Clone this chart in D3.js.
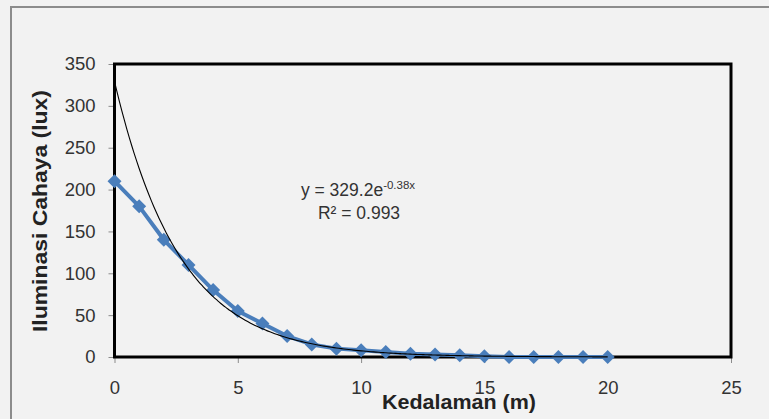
<!DOCTYPE html>
<html>
<head>
<meta charset="utf-8">
<script src="https://cdn.jsdelivr.net/npm/d3@7"></script>
<style>
  body { margin: 0; background: #f2f2f2; }
  svg { display: block; }
  text { font-family: "Liberation Sans", Arial, sans-serif; }
</style>
</head>
<body>
<svg width="769" height="419"></svg>
<script>
// data
var depth = [0, 1, 2, 3, 4, 5, 6, 7, 8, 9, 10, 11, 12, 13, 14, 15, 16, 17, 18, 19, 20];
var lux = [210, 180, 140, 110, 80, 55, 40, 25, 15, 10, 8, 6, 4, 3, 2, 1, 0, 0, 0, 0, 0];
var xTicks = [0, 5, 10, 15, 20, 25];
var yTicks = [0, 50, 100, 150, 200, 250, 300, 350];
// exponential trendline y = a * e^(b x), as shown on the chart
var trendA = 329.2, trendB = -0.38;

var svg = d3.select("svg"),
    width = +svg.attr("width"),
    height = +svg.attr("height");

var plotL = 114.5, plotR = 731, plotT = 64, plotB = 357;

var x = d3.scaleLinear().domain([0, 25]).range([plotL, plotR]);
var y = d3.scaleLinear().domain([0, 350]).range([plotB, plotT]);

svg.append("rect")
    .attr("width", width).attr("height", height)
    .attr("fill", "#f2f2f2");

// outer chart border (only top and left are in frame)
svg.append("path")
    .attr("d", "M11," + height + "V7H" + width)
    .attr("fill", "none")
    .attr("stroke", "#8c8c8c")
    .attr("stroke-width", 2);

// axes
var yAxis = svg.append("g")
    .attr("transform", "translate(" + plotL + ",0)")
    .call(d3.axisLeft(y).tickValues(yTicks).tickSize(6).tickPadding(13));
var xAxis = svg.append("g")
    .attr("transform", "translate(0," + plotB + ")")
    .call(d3.axisBottom(x).tickValues(xTicks).tickSize(6).tickPadding(18));

[xAxis, yAxis].forEach(function(g) {
  g.select(".domain").remove();
  g.selectAll(".tick line").attr("stroke", "#8c8c8c");
  g.selectAll(".tick text")
      .attr("fill", "#333")
      .style("font-size", "18.5px")
      .style("font-family", "'Liberation Sans', Arial, sans-serif");
});

// plot frame
svg.append("rect")
    .attr("x", plotL).attr("y", plotT)
    .attr("width", plotR - plotL).attr("height", plotB - plotT)
    .attr("fill", "none")
    .attr("stroke", "#000")
    .attr("stroke-width", 3);

var points = depth.map(function(d, i) { return {x: d, y: lux[i]}; });

var line = d3.line()
    .x(function(d) { return x(d.x); })
    .y(function(d) { return y(d.y); });

svg.append("path")
    .datum(points)
    .attr("d", line)
    .attr("fill", "none")
    .attr("stroke", "#4a7ebb")
    .attr("stroke-width", 4)
    .attr("stroke-linejoin", "round");

svg.append("g")
  .selectAll("path")
  .data(points)
  .enter().append("path")
    .attr("d", d3.symbol().type(d3.symbolSquare).size(98))
    .attr("transform", function(d) {
      return "translate(" + x(d.x) + "," + y(d.y) + ") rotate(45)";
    })
    .attr("fill", "#4a7ebb");

// trendline over the data range
var trendPts = d3.range(0, 20.001, 0.1).map(function(t) {
  return {x: t, y: trendA * Math.exp(trendB * t)};
});
svg.append("path")
    .datum(trendPts)
    .attr("d", line.curve(d3.curveBasis))
    .attr("fill", "none")
    .attr("stroke", "#000")
    .attr("stroke-width", 1.1);

// equation label
var eq = svg.append("text")
    .attr("x", 358).attr("y", 196)
    .attr("text-anchor", "middle")
    .attr("fill", "#333")
    .style("font-size", "17.5px");
eq.append("tspan").text("y = " + trendA + "e");
eq.append("tspan").attr("dy", -7).style("font-size", "11.5px").text(trendB + "x");

svg.append("text")
    .attr("x", 359).attr("y", 219)
    .attr("text-anchor", "middle")
    .attr("fill", "#333")
    .style("font-size", "17.5px")
    .text("R² = 0.993");

// axis titles
svg.append("text")
    .attr("x", 459).attr("y", 409)
    .attr("text-anchor", "middle")
    .attr("fill", "#222")
    .attr("textLength", 154)
    .attr("lengthAdjust", "spacingAndGlyphs")
    .style("font-size", "21px")
    .style("font-weight", "bold")
    .text("Kedalaman (m)");

svg.append("text")
    .attr("transform", "translate(47,211) rotate(-90)")
    .attr("text-anchor", "middle")
    .attr("fill", "#222")
    .attr("textLength", 242)
    .attr("lengthAdjust", "spacingAndGlyphs")
    .style("font-size", "21px")
    .style("font-weight", "bold")
    .text("Iluminasi Cahaya (lux)");
</script>
</body>
</html>
